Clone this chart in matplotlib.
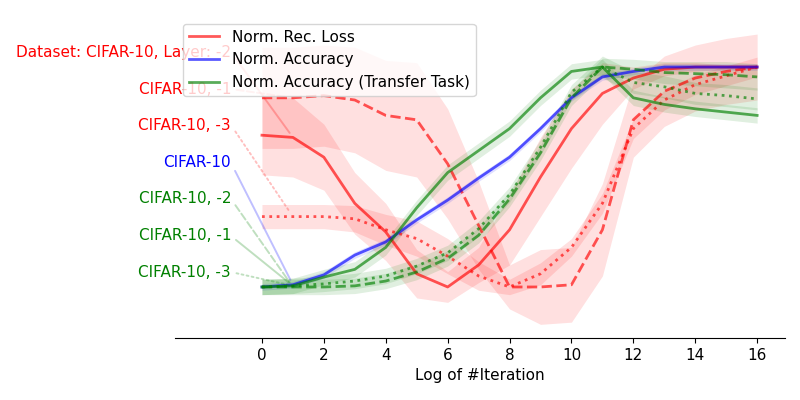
import numpy as np
import matplotlib
matplotlib.use("Agg")
import matplotlib.pyplot as plt

plt.rcParams['font.size'] = 11

iters = np.arange(17)

# normalized reconstruction loss, CIFAR-10 layers -2 / -1 / -3
rec_l2 = [0.69, 0.68, 0.59, 0.38, 0.25, 0.06, 0.00, 0.10, 0.26, 0.50, 0.72, 0.88, 0.95, 0.99, 1.00, 1.00, 1.00]
rec_l2_std = [0.18, 0.18, 0.15, 0.14, 0.13, 0.11, 0.07, 0.08, 0.16, 0.18, 0.18, 0.14, 0.05, 0.03, 0.02, 0.01, 0.01]
rec_l1 = [0.86, 0.86, 0.87, 0.85, 0.78, 0.76, 0.56, 0.28, 0.00, 0.00, 0.01, 0.26, 0.76, 0.89, 0.95, 0.98, 1.00]
rec_l1_std = [0.23, 0.23, 0.23, 0.24, 0.25, 0.26, 0.25, 0.20, 0.10, 0.17, 0.17, 0.21, 0.17, 0.16, 0.15, 0.15, 0.15]
rec_l3 = [0.32, 0.32, 0.32, 0.31, 0.26, 0.22, 0.14, 0.05, 0.00, 0.06, 0.18, 0.38, 0.72, 0.85, 0.92, 0.96, 1.00]
rec_l3_std = [0.055, 0.055, 0.055, 0.06, 0.07, 0.08, 0.08, 0.065, 0.035, 0.05, 0.04, 0.045, 0.045, 0.045, 0.045, 0.045, 0.045]

# normalized accuracy on CIFAR-10
acc = [0.00, 0.01, 0.055, 0.145, 0.205, 0.305, 0.395, 0.495, 0.59, 0.72, 0.86, 0.955, 0.98, 1.00, 1.00, 1.00, 1.00]
acc_std = [0.015] * 17

# normalized accuracy on transfer task, layers -1 / -2 / -3
tr_l1 = [0.00, 0.005, 0.045, 0.08, 0.18, 0.36, 0.52, 0.62, 0.72, 0.86, 0.98, 1.00, 0.86, 0.83, 0.81, 0.795, 0.78]
tr_l1_std = [0.035] * 17
tr_l2 = [0.00, 0.00, 0.00, 0.005, 0.027, 0.068, 0.13, 0.235, 0.40, 0.61, 0.86, 1.00, 0.99, 0.975, 0.97, 0.965, 0.955]
tr_l2_std = [0.035] * 11 + [0.04, 0.045, 0.05, 0.055, 0.06, 0.06]
tr_l3 = [0.00, 0.005, 0.014, 0.027, 0.05, 0.095, 0.155, 0.265, 0.42, 0.635, 0.885, 1.00, 0.93, 0.91, 0.88, 0.87, 0.855]
tr_l3_std = [0.035] * 11 + [0.05, 0.05, 0.05, 0.05, 0.05, 0.05]

label_texts = ["Dataset: CIFAR-10, Layer: -2", "CIFAR-10, -1", "CIFAR-10, -3", "CIFAR-10",
               "CIFAR-10, -2", "CIFAR-10, -1", "CIFAR-10, -3"]
label_y = [1.068, 0.90, 0.736, 0.564, 0.40, 0.232, 0.068]

series = [
    (rec_l2, rec_l2_std, 'red', '-'),
    (rec_l1, rec_l1_std, 'red', '--'),
    (rec_l3, rec_l3_std, 'red', ':'),
    (acc, acc_std, 'blue', '-'),
    (tr_l2, tr_l2_std, 'green', '--'),
    (tr_l1, tr_l1_std, 'green', '-'),
    (tr_l3, tr_l3_std, 'green', ':'),
]

fig = plt.figure(figsize=(8, 4), dpi=100)
ax = fig.add_axes([0.21875, 0.155, 0.7625, 0.805])

for vals, std, col, ls in series:
    vals = np.array(vals)
    std = np.array(std)
    ax.plot(iters, vals, color=col, ls=ls, lw=2, alpha=0.65)
    ax.fill_between(iters, vals - std, vals + std, color=col, alpha=0.12, lw=0)

# labels on the left, tied to the second point of each curve
for txt, ty, (vals, std, col, ls) in zip(label_texts, label_y, series):
    ax.annotate(txt, xy=(iters[1], vals[1]), xytext=(-1, ty), color=col,
                ha='right', va='center',
                arrowprops=dict(arrowstyle='-', color=col, ls=ls, lw=1.4, alpha=0.25,
                                relpos=(1, 0.5), shrinkB=4))

ax.plot([], [], color='red', lw=2, alpha=0.65, label='Norm. Rec. Loss')
ax.plot([], [], color='blue', lw=2, alpha=0.65, label='Norm. Accuracy')
ax.plot([], [], color='green', lw=2, alpha=0.65, label='Norm. Accuracy (Transfer Task)')
ax.legend(loc='upper left')

ax.set_xlim(-2.81, 16.9)
ax.set_ylim(-0.232, 1.232)
ax.set_xticks(range(0, 17, 2))
ax.set_yticks([])
ax.set_xlabel("Log of #Iteration")
for s in ['left', 'top', 'right']:
    ax.spines[s].set_visible(False)

fig.savefig("out.png", dpi=100)
